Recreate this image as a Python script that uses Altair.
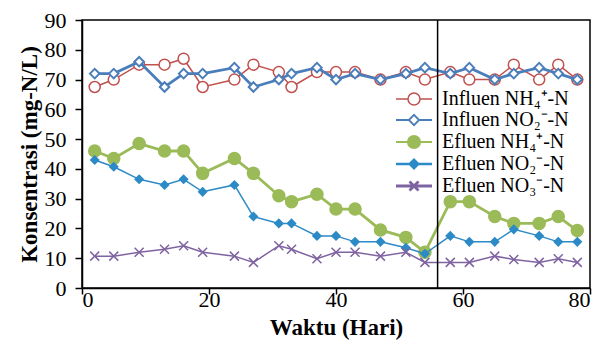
import altair as alt
import pandas as pd

days = [2, 5, 9, 13, 16, 19, 24, 27, 31, 33, 37, 40, 43, 47, 51, 54, 58, 61, 65, 68, 72, 75, 78]
series_names = ["Influen NH₄⁺-N", "Influen NO₂⁻-N", "Efluen NH₄⁺-N", "Efluen NO₂⁻-N", "Efluen NO₃⁻-N"]
inf_nh4 = [67.5, 70, 75, 75, 77, 67.5, 70, 75, 72.5, 67.5, 72.5, 72.5, 72.5, 70, 72.5, 70, 72.5, 70, 70, 75, 70, 75, 70]
inf_no2 = [72, 72, 76, 67.5, 72, 72, 74, 67.5, 70, 72, 74, 70, 72, 70, 72, 74, 72, 74, 70, 72, 74, 72, 70]
ef_nh4 = [46, 43.5, 48.5, 46, 46, 38.5, 43.5, 38.5, 31, 29, 31.5, 26.5, 26.5, 19.5, 17, 12, 29, 29, 24, 21.7, 21.7, 24, 19.3]
ef_no2 = [43, 40.7, 36.5, 34.6, 36.5, 32.3, 34.6, 24, 21.7, 21.7, 17.5, 17.5, 15.5, 15.5, 13.5, 11.5, 17.5, 15.5, 15.5, 19.7, 17.5, 15.5, 15.5]
ef_no3 = [10.7, 10.7, 12, 13, 14.2, 12, 10.7, 8.6, 14.2, 13, 9.8, 12, 12, 10.7, 12, 8.6, 8.6, 8.6, 10.7, 9.6, 8.6, 9.8, 8.6]
divider_day = [56]
x_ticks = [0, 20, 40, 60, 80]
y_ticks = [0, 10, 20, 30, 40, 50, 60, 70, 80, 90]

all_values = [inf_nh4, inf_no2, ef_nh4, ef_no2, ef_no3]
colors = ["#C0504D", "#4A7EBB", "#9BBB59", "#2C8AC6", "#7F63A1"]
fills = ["white", "white", "#9BBB59", "#2C8AC6", "white"]
line_widths = [1.5, 2.8, 2.8, 1.5, 1.5]
point_shapes = ["circle", "diamond", "circle", "diamond", "M-1,-1L1,1M-1,1L1,-1"]
point_sizes = [121, 90, 144, 64, 81]
point_sw = [1.5, 2, 1.5, 1.5, 1.5]

SERIF = "Liberation Serif"

# legend symbols: line segment + marker (unit coords, scaled by symbol size)
legend_shapes = [
    "M-3,0H-1M1,0A1,1,0,1,1,-1,0A1,1,0,1,1,1,0ZM1,0H3",
    "M-3,0H-0.85M-0.85,0L0,-0.85L0.85,0L0,0.85ZM0.85,0H3",
    "M-3,0H-1M1,0A1,1,0,1,1,-1,0A1,1,0,1,1,1,0ZM1,0H3",
    "M-3,0H-0.7M-0.7,0L0,-0.7L0.7,0L0,0.7ZM0.7,0H3",
    "M-3,0H3M-0.75,-0.75L0.75,0.75M-0.75,0.75L0.75,-0.75",
]

rows = []
for name, vals in zip(series_names, all_values):
    for d, v in zip(days, vals):
        rows.append({"day": d, "value": v, "series": name})
df = pd.DataFrame(rows)

x_enc = alt.X("day:Q", scale=alt.Scale(domain=[0, 80], nice=False),
              axis=alt.Axis(values=x_ticks, title="Waktu (Hari)", labelPadding=-5, titlePadding=6,
                            tickSize=6))
y_enc = alt.Y("value:Q", scale=alt.Scale(domain=[0, 90], nice=False),
              axis=alt.Axis(values=y_ticks, title="Konsentrasi (mg-N/L)", labelPadding=9, titlePadding=3,
                            tickSize=7))

layers = []
for i, name in enumerate(series_names):
    base = alt.Chart(df).transform_filter(alt.datum.series == name)
    layers.append(base.mark_line(color=colors[i], strokeWidth=line_widths[i]).encode(x=x_enc, y=y_enc))
    if point_shapes[i].startswith("M"):
        pm = base.mark_point(shape=point_shapes[i], size=point_sizes[i], filled=False,
                             color=colors[i], strokeWidth=point_sw[i], opacity=1)
    else:
        pm = base.mark_point(shape=point_shapes[i], size=point_sizes[i], filled=True,
                             fill=fills[i], stroke=colors[i], strokeWidth=point_sw[i], opacity=1)
    layers.append(pm.encode(x=x_enc, y=y_enc))

rule = alt.Chart(pd.DataFrame({"day": divider_day})).mark_rule(color="black", strokeWidth=1.5).encode(
    x=alt.X("day:Q"))
layers.append(rule)

leg = alt.Legend(title=None, orient="none", legendX=322, legendY=69,
                 labelFont=SERIF, labelFontSize=20, labelColor="black",
                 symbolSize=144, labelOffset=18, rowPadding=1, labelLimit=300)
legend_layer = alt.Chart(df).transform_filter("false").mark_point(opacity=1, filled=True).encode(
    x=x_enc, y=y_enc,
    stroke=alt.Stroke("series:N", scale=alt.Scale(domain=series_names, range=colors), legend=leg),
    fill=alt.Fill("series:N", scale=alt.Scale(domain=series_names, range=fills), legend=leg),
    shape=alt.Shape("series:N", scale=alt.Scale(domain=series_names, range=legend_shapes), legend=leg),
    strokeWidth=alt.StrokeWidth("series:N", scale=alt.Scale(domain=series_names, range=line_widths), legend=leg),
)
layers.append(legend_layer)

chart = alt.layer(*layers).properties(
    width=508, height=268,
    autosize=alt.AutoSizeParams(type="none"),
    padding={"left": 74, "top": 12, "right": 8, "bottom": 62},
).configure(font=SERIF).configure_view(stroke="black", strokeWidth=1.5).configure_axis(
    grid=False, domainColor="black", domainWidth=1.5, tickColor="black", tickWidth=1.5,
    labelFont=SERIF, labelFontSize=22, labelColor="black",
    titleFont=SERIF, titleFontSize=23, titleFontWeight="bold", titleColor="black",
)

chart.save("out.html", embed_options={"renderer": "svg", "actions": False})
